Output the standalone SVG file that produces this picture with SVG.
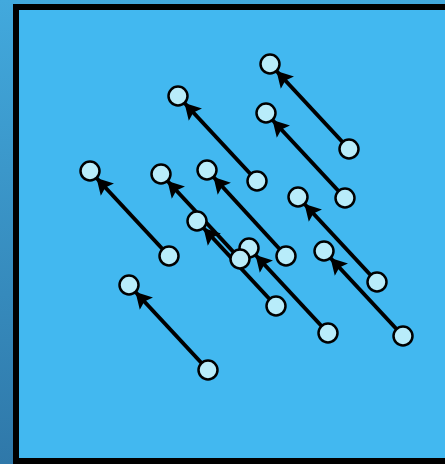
<svg xmlns="http://www.w3.org/2000/svg" width="445" height="464" viewBox="0 0 445 464">
<defs>
<linearGradient id="bg" x1="0" y1="0" x2="0" y2="1">
<stop offset="0" stop-color="#42a9dd"/>
<stop offset="1" stop-color="#2f78a9"/>
</linearGradient>
<marker id="ah" markerUnits="userSpaceOnUse" markerWidth="20" markerHeight="20" refX="16" refY="9" orient="auto">
<path d="M0,0 L16,9 L0,18 L3,9 z" fill="#000"/>
</marker>
<style>
.n circle{fill:#b8ecfa;stroke:#000;stroke-width:2.5}
.e path{stroke:#000;stroke-width:4;fill:none;marker-end:url(#ah)}
</style>
</defs>
<rect x="0" y="0" width="445" height="464" fill="url(#bg)"/>
<rect x="16" y="7" width="440" height="454" fill="#42b8f0" stroke="#000" stroke-width="6"/>
<g id="connectors" class="e">
<path d="M349,149 L276.5,71"/>
<path d="M257,181 L184.5,103"/>
<path d="M345,198 L272.5,120"/>
<path d="M169,256 L96.5,178"/>
<path d="M240,259 L167.5,181"/>
<path d="M286,256 L213.5,177"/>
<path d="M276,306 L203.5,228"/>
<path d="M377,282 L304.5,204"/>
<path d="M328,333 L255.5,255"/>
<path d="M403,336 L330.5,258"/>
<path d="M208,370 L135.5,292"/>
</g>
<g id="n1" class="n"><circle cx="270" cy="64" r="9.5"/></g>
<g id="n2" class="n"><circle cx="349" cy="149" r="9.5"/></g>
<g id="n3" class="n"><circle cx="178" cy="96" r="9.5"/></g>
<g id="n4" class="n"><circle cx="257" cy="181" r="9.5"/></g>
<g id="n5" class="n"><circle cx="266" cy="113" r="9.5"/></g>
<g id="n6" class="n"><circle cx="345" cy="198" r="9.5"/></g>
<g id="n7" class="n"><circle cx="90" cy="171" r="9.5"/></g>
<g id="n8" class="n"><circle cx="169" cy="256" r="9.5"/></g>
<g id="n9" class="n"><circle cx="161" cy="174" r="9.5"/></g>
<g id="n11" class="n"><circle cx="207" cy="170" r="9.5"/></g>
<g id="n12" class="n"><circle cx="286" cy="256" r="9.5"/></g>
<g id="n13" class="n"><circle cx="197" cy="221" r="9.5"/></g>
<g id="n14" class="n"><circle cx="276" cy="306" r="9.5"/></g>
<g id="n15" class="n"><circle cx="298" cy="197" r="9.5"/></g>
<g id="n16" class="n"><circle cx="377" cy="282" r="9.5"/></g>
<g id="n17" class="n"><circle cx="249" cy="248" r="9.5"/></g>
<g id="n10" class="n"><circle cx="240" cy="259" r="9.5"/></g>
<g id="n18" class="n"><circle cx="328" cy="333" r="9.5"/></g>
<g id="n19" class="n"><circle cx="324" cy="251" r="9.5"/></g>
<g id="n20" class="n"><circle cx="403" cy="336" r="9.5"/></g>
<g id="n21" class="n"><circle cx="129" cy="285" r="9.5"/></g>
<g id="n22" class="n"><circle cx="208" cy="370" r="9.5"/></g>
</svg>
